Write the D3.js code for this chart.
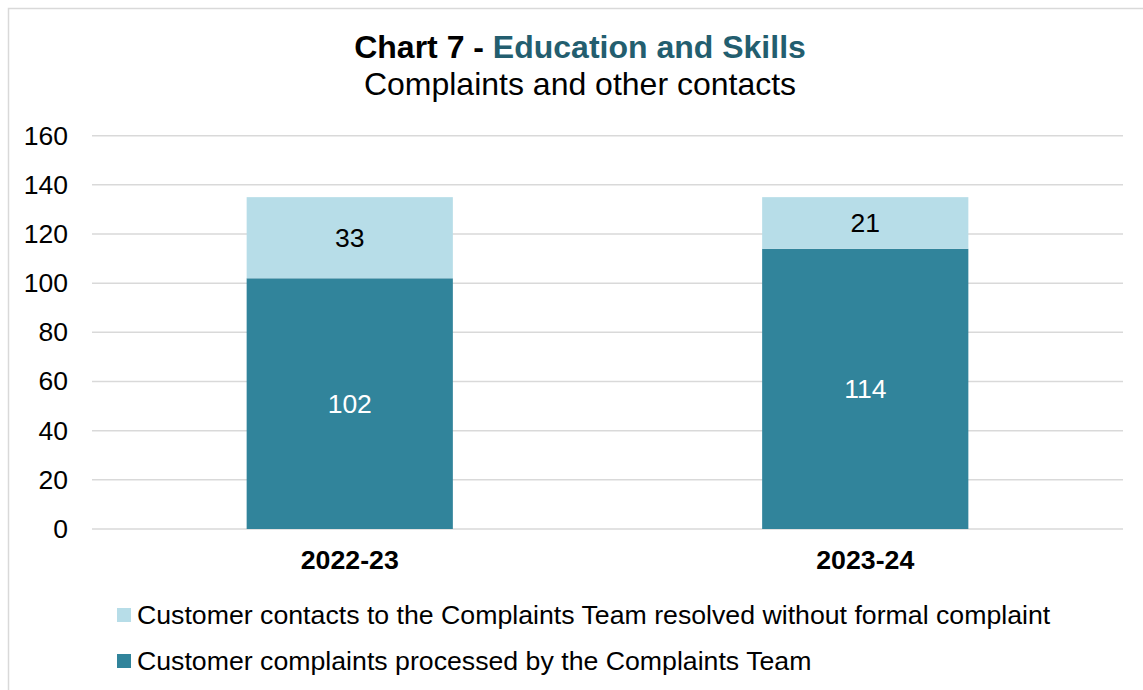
<!DOCTYPE html>
<html><head><meta charset="utf-8">
<script src="https://cdn.jsdelivr.net/npm/d3@7"></script>
<style>
html,body{margin:0;padding:0;background:#fff;}
svg{display:block;font-family:"Liberation Sans",Arial,sans-serif;}
</style></head>
<body>
<svg id="chart" width="1143" height="690"></svg>
<script>
const categories = ["2022-23", "2023-24"];
const complaints = [102, 114];
const contacts = [33, 21];
const yTicks = [0, 20, 40, 60, 80, 100, 120, 140, 160];
const seriesNames = ["Customer contacts to the Complaints Team resolved without formal complaint",
                     "Customer complaints processed by the Complaints Team"];

const svg = d3.select("#chart");
const colDark = "#31849b", colLight = "#b7dde8";

// frame
svg.append("rect").attr("x", 8.5).attr("y", 8.5).attr("width", 1300).attr("height", 900)
  .attr("fill", "#fff").attr("stroke", "#d9d9d9").attr("stroke-width", 1.5);

// titles
const t = svg.append("text").attr("x", 580).attr("y", 58).attr("text-anchor", "middle")
  .attr("font-size", 32).attr("font-weight", "bold");
t.append("tspan").attr("fill", "#000").text("Chart 7 - ");
t.append("tspan").attr("fill", "#235e6f").text("Education and Skills");
svg.append("text").attr("x", 580).attr("y", 95).attr("text-anchor", "middle")
  .attr("font-size", 32).attr("fill", "#000").text("Complaints and other contacts");

const x = d3.scaleBand().domain(categories).range([92, 1123]).paddingInner(0.6).paddingOuter(0.3);
const y = d3.scaleLinear().domain([0, 160]).range([529, 135.7]);

// gridlines
svg.append("g").selectAll("line").data(yTicks).join("line")
  .attr("x1", 92).attr("x2", 1123)
  .attr("y1", d => y(d)).attr("y2", d => y(d))
  .attr("stroke", "#d9d9d9").attr("stroke-width", 1.5);

// y axis labels
const yAxis = d3.axisLeft(y).tickValues(yTicks).tickSize(0).tickPadding(0);
const gy = svg.append("g").attr("transform", "translate(68,0)").call(yAxis);
gy.select(".domain").remove();
gy.selectAll("text").attr("font-size", 26.5).attr("fill", "#000")
  .attr("font-family", "Liberation Sans, Arial, sans-serif");

// x axis labels
const xAxis = d3.axisBottom(x).tickSize(0).tickPadding(0);
const gx = svg.append("g").attr("transform", "translate(0,550)").call(xAxis);
gx.select(".domain").remove();
gx.selectAll("text").attr("font-size", 26.7).attr("font-weight", "bold").attr("fill", "#000")
  .attr("font-family", "Liberation Sans, Arial, sans-serif");

// bars
const data = categories.map((c, i) => ({cat: c, a: complaints[i], b: contacts[i]}));
const bars = svg.append("g");
bars.selectAll("rect.dark").data(data).join("rect").attr("class", "dark")
  .attr("x", d => x(d.cat)).attr("width", x.bandwidth())
  .attr("y", d => y(d.a)).attr("height", d => y(0) - y(d.a)).attr("fill", colDark);
bars.selectAll("rect.light").data(data).join("rect").attr("class", "light")
  .attr("x", d => x(d.cat)).attr("width", x.bandwidth())
  .attr("y", d => y(d.a + d.b)).attr("height", d => y(d.a) - y(d.a + d.b)).attr("fill", colLight);

// labels
bars.selectAll("text.dl").data(data).join("text").attr("class", "dl")
  .attr("x", d => x(d.cat) + x.bandwidth() / 2).attr("y", d => (y(0) + y(d.a)) / 2)
  .attr("dy", "0.35em").attr("text-anchor", "middle").attr("font-size", 26.5).attr("fill", "#fff")
  .text(d => d.a);
bars.selectAll("text.ll").data(data).join("text").attr("class", "ll")
  .attr("x", d => x(d.cat) + x.bandwidth() / 2).attr("y", d => (y(d.a) + y(d.a + d.b)) / 2)
  .attr("dy", "0.35em").attr("text-anchor", "middle").attr("font-size", 26.5).attr("fill", "#000")
  .text(d => d.b);

// legend
const legCols = [colLight, colDark];
const leg = svg.append("g").selectAll("g").data(seriesNames).join("g")
  .attr("transform", (d, i) => `translate(117,${608 + i * 46})`);
leg.append("rect").attr("width", 14).attr("height", 14).attr("fill", (d, i) => legCols[i]);
leg.append("text").attr("x", 20).attr("y", 7).attr("dy", "0.35em").attr("font-size", 26.7)
  .attr("fill", "#000").text(d => d);
</script>
</body></html>
